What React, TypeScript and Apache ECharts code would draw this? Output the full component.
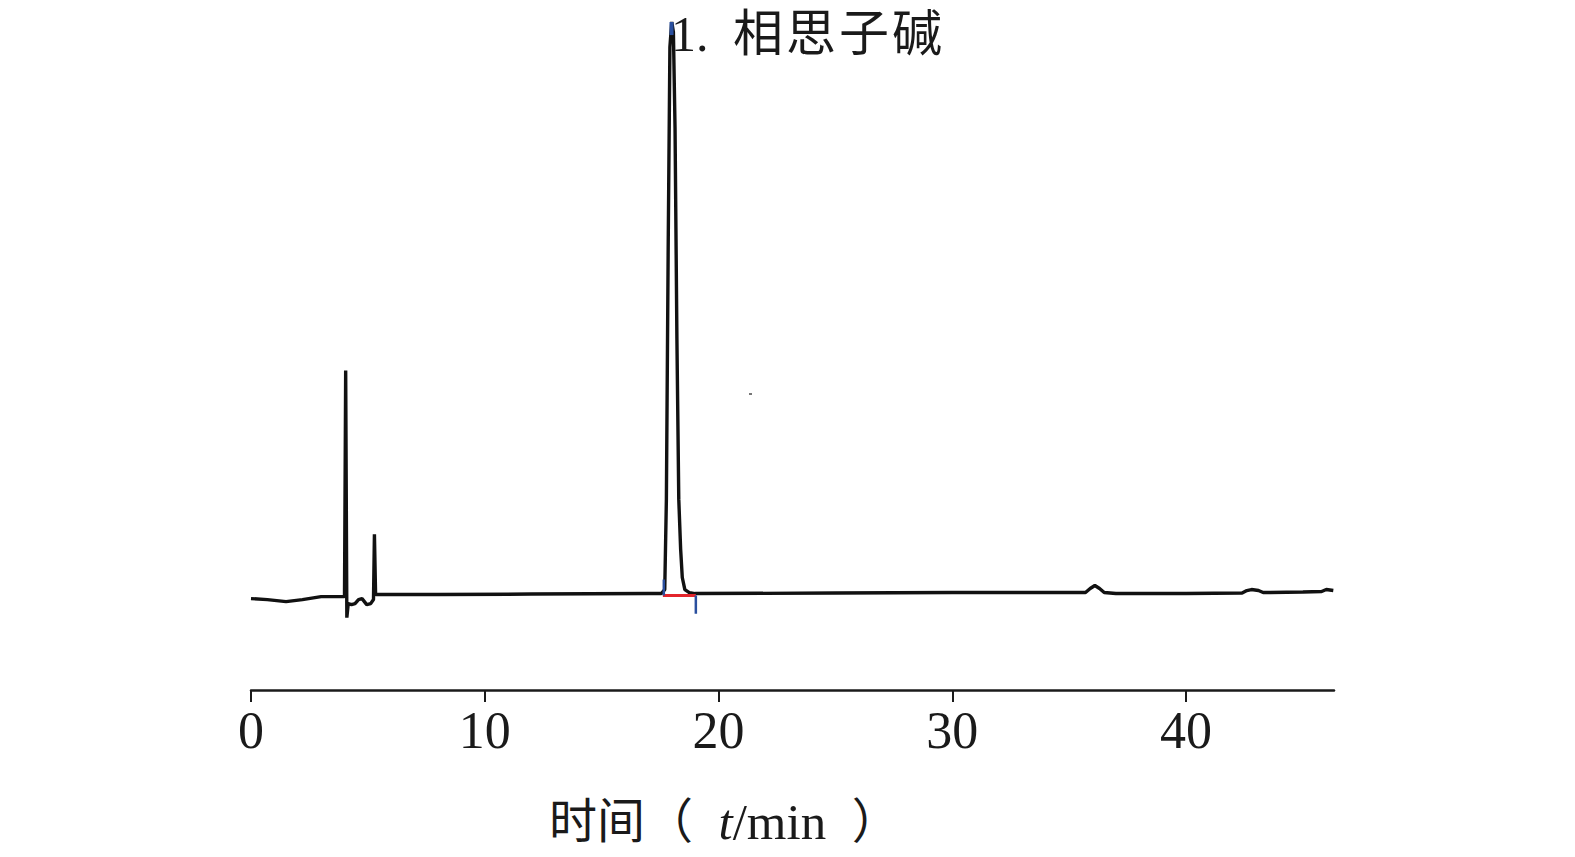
import React, { useEffect, useRef } from "react";
import * as echarts from "echarts";

// Chromatogram trace: retention time (min) and detector response (arbitrary units)
const traceTime: number[] = [
  0, 0.7, 1.5, 2.2, 3.0, 3.8, 4.0, 4.05, 4.1, 4.16, 4.3, 4.45, 4.6, 4.75, 4.95, 5.12, 5.24, 5.28, 5.33, 5.5,
  8, 12, 17.0, 17.55, 17.7, 17.77, 17.85, 17.92, 18.0, 18.07, 18.14, 18.22, 18.3, 18.38, 18.45, 18.56, 18.75, 19.0,
  25, 30, 35, 35.7, 35.9, 36.1, 36.3, 36.5, 37, 40, 42.4, 42.6, 42.8, 43.1, 43.3, 45, 45.8, 46.0, 46.3,
];
const traceSignal: number[] = [
  91, 90, 88, 90, 93, 93, 93, 318, 72, 86, 85, 86, 90, 91, 85, 86, 90, 155, 95, 95,
  95, 95.5, 96, 96, 100, 190, 450, 640, 665, 655, 560, 350, 190, 140, 112, 100, 97, 96,
  96.5, 97, 97, 97, 101, 104, 101, 97, 96, 96, 96.5, 99, 100, 99, 97, 97.5, 98, 100, 99,
];

// Integration baseline (red) and integration markers (blue) for peak 1
const baselineTime: number[] = [17.62, 19.03];
const baselineSignal: number[] = [94, 94];
const startMarkTime: number[] = [17.66, 17.66];
const startMarkSignal: number[] = [94, 110];
const endMarkTime: number[] = [19.03, 19.03];
const endMarkSignal: number[] = [94, 76];
const apexMarkTime: number[] = [17.99, 17.99];
const apexMarkSignal: number[] = [665, 652];

const xTicks: number[] = [0, 10, 20, 30, 40];
const xMin = 0;
const xMax = 46.33;
const peakLabelNumber = "1.";
const peakLabelName: string[] = ["相", "思", "子", "碱"];

const zip = (a: number[], b: number[]) => a.map((v, i) => [v, b[i]]);

export default function App() {
  const ref = useRef<HTMLDivElement>(null);
  useEffect(() => {
    if (!ref.current) return;
    const chart = echarts.init(ref.current, undefined, { renderer: "svg" });
    const serif = "'Liberation Serif', 'Times New Roman', 'Noto Sans CJK SC', serif";
    const labelRich = "{n|" + peakLabelNumber + "}" + peakLabelName.map((c) => "{z|" + c + "}").join("");
    chart.setOption({
      animation: false,
      grid: { left: 251, right: 241, top: 22, bottom: 167, containLabel: false },
      xAxis: {
        type: "value",
        min: xMin,
        max: xMax,
        interval: 10,
        splitLine: { show: false },
        axisLine: { show: true, lineStyle: { color: "#1a1a1a", width: 2.5 } },
        axisTick: { show: true, length: 12, lineStyle: { color: "#1a1a1a", width: 2 }, customValues: xTicks },
        axisLabel: {
          color: "#1a1a1a",
          fontFamily: serif,
          fontSize: 52,
          margin: 14,
          customValues: xTicks,
        },
      },
      yAxis: { type: "value", min: 0, max: 665, show: false },
      series: [
        {
          type: "line",
          data: zip(traceTime, traceSignal),
          showSymbol: false,
          lineStyle: { color: "#111", width: 3.4 },
          z: 3,
        },
        {
          type: "line",
          data: zip(baselineTime, baselineSignal),
          showSymbol: false,
          lineStyle: { color: "#e3242b", width: 3 },
          z: 4,
        },
        {
          type: "line",
          data: zip(startMarkTime, startMarkSignal),
          showSymbol: false,
          lineStyle: { color: "#2a4f9e", width: 2.5 },
          z: 5,
        },
        {
          type: "line",
          data: zip(endMarkTime, endMarkSignal),
          showSymbol: false,
          lineStyle: { color: "#2a4f9e", width: 2.5 },
          z: 5,
        },
        {
          type: "line",
          data: zip(apexMarkTime, apexMarkSignal),
          showSymbol: false,
          lineStyle: { color: "#2a4f9e", width: 4 },
          z: 5,
        },
      ],
      graphic: [
        {
          type: "text",
          left: 671,
          top: 9,
          style: {
            text: labelRich,
            rich: {
              n: { fontFamily: serif, fontSize: 50, fill: "#1a1a1a", width: 62, align: "left" },
              z: { fontFamily: serif, fontSize: 50, fill: "#1a1a1a", width: 53, align: "left" },
            },
          },
        },
        {
          type: "text",
          left: 549,
          top: 796,
          style: {
            text: "{c|时间（}{r|  }{i|t}{r|/min  }{c|）}",
            rich: {
              c: { fontFamily: serif, fontSize: 48, fill: "#1a1a1a" },
              r: { fontFamily: serif, fontSize: 51, fill: "#1a1a1a" },
              i: { fontFamily: serif, fontSize: 51, fontStyle: "italic", fill: "#1a1a1a" },
            },
          },
        },
        {
          type: "rect",
          shape: { x: 749, y: 393, width: 3, height: 2 },
          style: { fill: "#777" },
        },
      ],
    });
    return () => chart.dispose();
  }, []);
  return (
    <div
      ref={ref}
      style={{ position: "absolute", left: 0, top: 0, width: 1575, height: 857, background: "#fff" }}
    />
  );
}
